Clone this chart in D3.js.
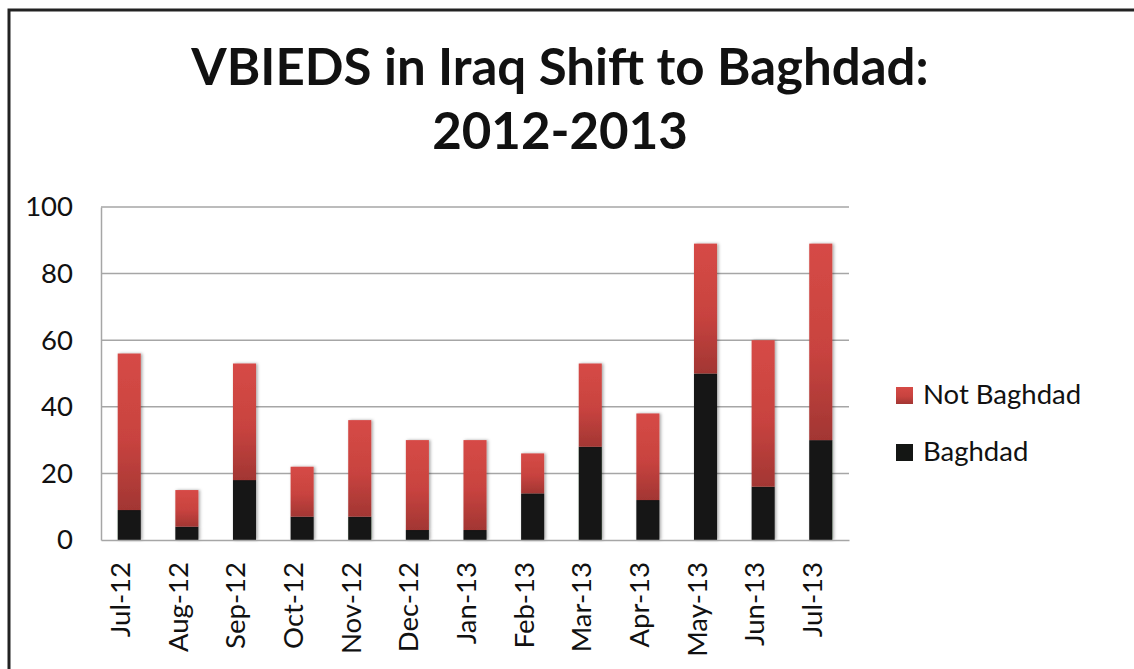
<!DOCTYPE html>
<html>
<head>
<meta charset="utf-8">
<script src="https://cdn.jsdelivr.net/npm/d3@7"></script>
<style>
  html, body { margin: 0; padding: 0; background: #fff; }
  svg { display: block; }
  text { font-family: Lato, "Open Sans", "DejaVu Sans", sans-serif; fill: #111; }
</style>
</head>
<body>
<svg id="chart" width="1134" height="669"></svg>
<script>
// ---- data ----
const categories = ["Jul-12","Aug-12","Sep-12","Oct-12","Nov-12","Dec-12","Jan-13","Feb-13","Mar-13","Apr-13","May-13","Jun-13","Jul-13"];
const baghdad    = [9, 4, 18, 7, 7, 3, 3, 14, 28, 12, 50, 16, 30];
const notBaghdad = [47, 11, 35, 15, 29, 27, 27, 12, 25, 26, 39, 44, 59];
const yTicks = [0, 20, 40, 60, 80, 100];
const titleLines = ["VBIEDS in Iraq Shift to Baghdad:", "2012-2013"];
const seriesNames = ["Not Baghdad", "Baghdad"];

// ---- layout ----
const svg = d3.select("#chart");
const plot = { left: 101, right: 849, top: 207, bottom: 540 };

// outer frame
svg.append("rect")
  .attr("x", 9).attr("y", 10).attr("width", 1200).attr("height", 800)
  .attr("fill", "none").attr("stroke", "#222").attr("stroke-width", 3);

// defs
const defs = svg.append("defs");
const grad = defs.append("linearGradient").attr("id", "redGrad")
  .attr("x1", 0).attr("y1", 0).attr("x2", 0).attr("y2", 1);
grad.append("stop").attr("offset", "0%").attr("stop-color", "#d64a46");
grad.append("stop").attr("offset", "55%").attr("stop-color", "#c8433f");
grad.append("stop").attr("offset", "100%").attr("stop-color", "#a23633");
const shadow = defs.append("filter").attr("id", "shadow")
  .attr("x", "-30%").attr("y", "-10%").attr("width", "160%").attr("height", "120%");
shadow.append("feDropShadow").attr("dx", 1.5).attr("dy", 0).attr("stdDeviation", 1.5)
  .attr("flood-color", "#000").attr("flood-opacity", 0.35);

// title
svg.append("text")
  .attr("x", 560).attr("text-anchor", "middle")
  .attr("font-weight", "bold").attr("font-size", 51)
  .selectAll("tspan").data(titleLines).join("tspan")
  .attr("x", 560).attr("y", (d, i) => 85 + i * 64)
  .text(d => d);

// scales
const x = d3.scaleBand().domain(categories).range([plot.left, plot.right]).paddingInner(0.6).paddingOuter(0.29);
const y = d3.scaleLinear().domain([0, 100]).range([plot.bottom, plot.top]);

// gridlines
svg.append("g").selectAll("line").data(yTicks.filter(t => t > 0)).join("line")
  .attr("x1", plot.left).attr("x2", plot.right)
  .attr("y1", d => y(d)).attr("y2", d => y(d))
  .attr("stroke", "#a6a6a6").attr("stroke-width", 1.5);

// y axis
const yAxis = svg.append("g").attr("transform", `translate(${plot.left},0)`)
  .call(d3.axisLeft(y).tickValues(yTicks).tickSize(0).tickPadding(28).tickFormat(d3.format("d")));
yAxis.select(".domain").attr("stroke", "#a6a6a6").attr("stroke-width", 1.5);
yAxis.selectAll("text").attr("font-size", 27.5).attr("font-family", "Lato, 'Open Sans', sans-serif").attr("fill", "#111");

// stacked data
const rows = categories.map((c, i) => ({ cat: c, Baghdad: baghdad[i], "Not Baghdad": notBaghdad[i] }));
const stack = d3.stack().keys(["Baghdad", "Not Baghdad"])(rows);
const fills = { "Baghdad": "#141614", "Not Baghdad": "url(#redGrad)" };

const bars = svg.append("g");
stack.forEach(layer => {
  bars.append("g").attr("fill", fills[layer.key]).attr("filter", "url(#shadow)")
    .selectAll("rect").data(layer).join("rect")
    .attr("x", d => x(d.data.cat))
    .attr("width", x.bandwidth())
    .attr("y", d => y(d[1]))
    .attr("height", d => y(d[0]) - y(d[1]));
});

// x axis
const xAxis = svg.append("g").attr("transform", `translate(0,${plot.bottom})`)
  .call(d3.axisBottom(x).tickSize(0).tickPadding(0));
xAxis.select(".domain").attr("stroke", "#a6a6a6").attr("stroke-width", 1.5);
xAxis.selectAll("text")
  .attr("font-size", 27.5).attr("font-family", "Lato, 'Open Sans', sans-serif").attr("fill", "#111")
  .attr("text-anchor", "end").attr("dy", 0).attr("y", 0)
  .attr("transform", "translate(1,22) rotate(-90)");

// legend
const legend = svg.append("g").selectAll("g").data(seriesNames).join("g")
  .attr("transform", (d, i) => `translate(896,${387 + i * 57})`);
legend.append("rect").attr("width", 17).attr("height", 17)
  .attr("fill", d => fills[d]);
legend.append("text").attr("x", 27).attr("y", 17)
  .attr("font-size", 27.5).text(d => d);
</script>
</body>
</html>
